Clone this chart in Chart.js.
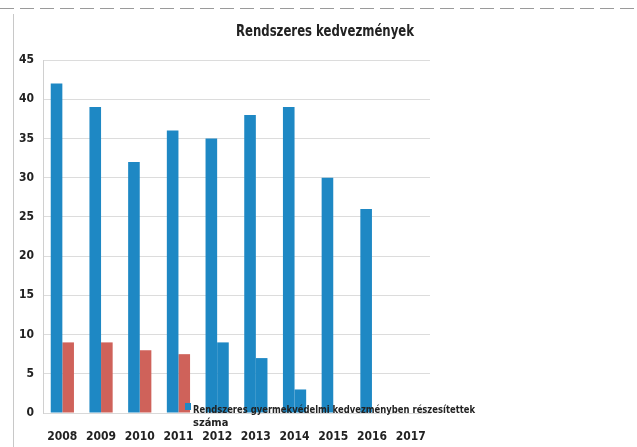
<!DOCTYPE html>
<html>
<head>
<meta charset="utf-8">
<script src="https://cdn.jsdelivr.net/npm/chart.js@4"></script>
<style>
html,body{margin:0;padding:0;background:#fff;}
#wrap{width:637px;height:447px;position:relative;}
</style>
</head>
<body>
<div id="wrap"><canvas id="c" width="637" height="447"></canvas></div>
<script>
const titleText = "Rendszeres kedvezmények";
const years = ["2008","2009","2010","2011","2012","2013","2014","2015","2016","2017"];
const seriesA = [42, 39, 32, 36, 35, 38, 39, 30, 26, null];
const seriesB = [9, 9, 8, 7.5, 9, 7, 3, null, null, null];
const seriesBColors = ["#cf625a","#cf625a","#cf625a","#cf625a","#1e88c4","#1e88c4","#1e88c4","#cf625a","#cf625a","#cf625a"];
const legendLines = ["Rendszeres gyermekvédelmi kedvezményben részesítettek", "száma"];
const yTicks = {min: 0, max: 45, step: 5};

const FONT = "'Liberation Sans Narrow','DejaVu Sans Condensed','Liberation Sans',sans-serif";
const BLUE = "#1e88c4";

const decorPlugin = {
  id: 'decor',
  beforeDraw(chart) {
    const ctx = chart.ctx;
    ctx.save();
    ctx.strokeStyle = "#c8c8c8";
    ctx.lineWidth = 1;
    ctx.beginPath();
    ctx.moveTo(13.5, 14); ctx.lineTo(13.5, 447);
    ctx.stroke();
    ctx.strokeStyle = "#9a9a9a";
    ctx.setLineDash([14, 6]);
    ctx.beginPath();
    ctx.moveTo(0, 8.5); ctx.lineTo(637, 8.5);
    ctx.stroke();
    ctx.restore();
  },
  afterDraw(chart) {
    const ctx = chart.ctx;
    const a = chart.chartArea;
    ctx.save();
    ctx.fillStyle = "#222";
    ctx.font = "bold 15px " + FONT;
    ctx.textAlign = "center";
    ctx.textBaseline = "middle";
    ctx.fillText(titleText, 325, 32, 178);
    const x0 = a.left + 150;
    const y0 = a.bottom - 3;
    ctx.fillStyle = BLUE;
    ctx.fillRect(x0 - 8, y0 - 7, 6, 7);
    ctx.fillStyle = "#222";
    ctx.font = "bold 11px " + FONT;
    ctx.textAlign = "left";
    ctx.fillText(legendLines[0], x0, y0, 282);
    ctx.fillText(legendLines[1], x0, y0 + 13);
    ctx.restore();
  }
};

new Chart(document.getElementById('c'), {
  type: 'bar',
  data: {
    labels: years,
    datasets: [
      {label: legendLines.join(" "), data: seriesA, backgroundColor: BLUE, categoryPercentage: 0.6, barPercentage: 1.0},
      {label: "B", data: seriesB, backgroundColor: seriesBColors, categoryPercentage: 0.6, barPercentage: 1.0}
    ]
  },
  options: {
    responsive: false,
    animation: false,
    devicePixelRatio: 1,
    layout: {padding: {left: 14, right: 207, top: 60, bottom: 4}},
    plugins: {
      legend: {display: false},
      tooltip: {enabled: false},
      title: {display: false}
    },
    scales: {
      x: {
        grid: {display: false, drawTicks: false},
        border: {display: true, color: "#d9d9d9"},
        ticks: {color: "#222", font: {family: FONT, size: 12, weight: 'bold'}, padding: 17, maxRotation: 0},
        afterFit(s) { s.height = 30; }
      },
      y: {
        min: yTicks.min, max: yTicks.max,
        grid: {color: "#dcdcdc", drawTicks: false},
        border: {display: true, color: "#d0d0d0"},
        ticks: {stepSize: yTicks.step, color: "#222", font: {family: FONT, size: 12, weight: 'bold'}, padding: 9},
        afterFit(s) { s.width = 29; }
      }
    }
  },
  plugins: [decorPlugin]
});
</script>
</body>
</html>
